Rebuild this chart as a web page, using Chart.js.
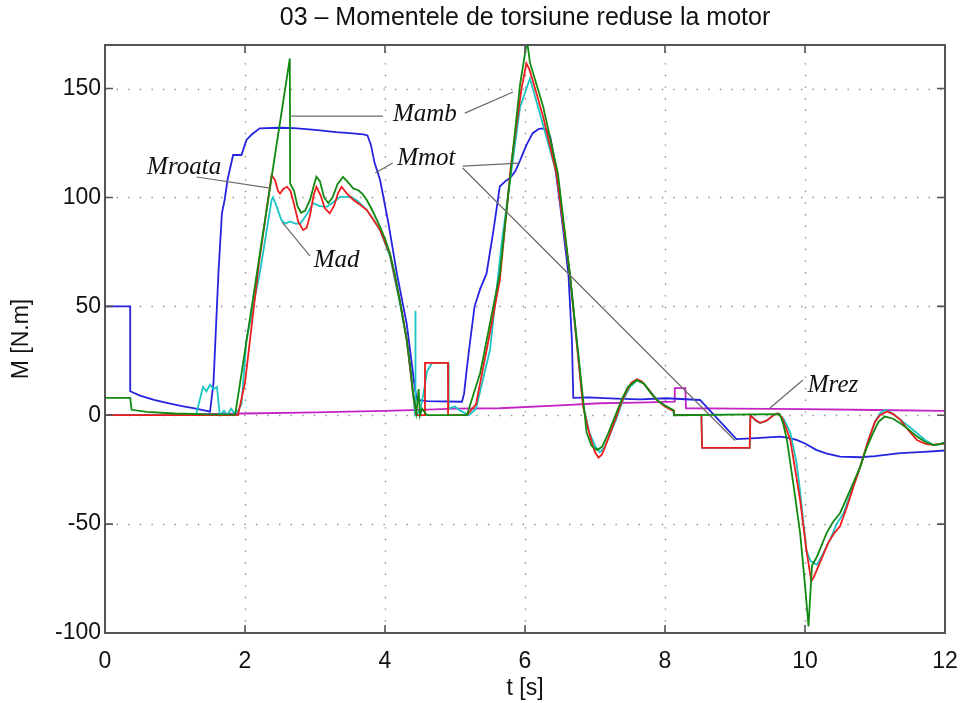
<!DOCTYPE html>
<html>
<head>
<meta charset="utf-8">
<script src="https://cdn.jsdelivr.net/npm/chart.js@4.4.1/dist/chart.umd.min.js"></script>
<style>
  html, body { margin: 0; padding: 0; background: #fff; }
  #wrap { width: 964px; height: 703px; }
</style>
</head>
<body>
<div id="wrap"><canvas id="c"></canvas></div>
<script>
// axis ticks
const xTicks = [0, 2, 4, 6, 8, 10, 12];
const yTicks = [-100, -50, 0, 50, 100, 150];

// Mmot (blue)
const tMot = [0, 0.36, 0.36, 0.5, 0.7, 0.9, 1.1, 1.3, 1.45, 1.5, 1.55, 1.62, 1.67, 1.71, 1.75, 1.83, 1.95, 2.02, 2.1, 2.21, 2.5, 2.7, 3.0, 3.3, 3.5, 3.69, 3.75, 3.8, 3.85, 3.93, 4.05, 4.17, 4.31, 4.43, 4.46, 4.6, 5.1, 5.13, 5.16, 5.22, 5.28, 5.36, 5.45, 5.55, 5.64, 5.72, 5.79, 5.86, 5.93, 6.02, 6.11, 6.2, 6.26, 6.32, 6.36, 6.4, 6.43, 6.5, 6.54, 6.62, 6.67, 6.69, 6.9, 7.3, 7.64, 8.02, 8.5, 9.02, 9.3, 9.64, 9.75, 9.88, 10.0, 10.16, 10.3, 10.5, 10.79, 11.0, 11.36, 11.7, 12];
const mMot = [50, 50, 11, 9, 7, 5.5, 4.2, 3, 2, 1.6, 15, 65, 92.7, 99, 108, 119.5, 119.5, 126.4, 129, 131.7, 132, 131.8, 131, 130, 129.5, 129, 128.5, 124, 116, 108, 88, 65, 42, 11.6, 7, 6.5, 6.2, 10, 19, 35, 50, 58, 65, 85, 105, 107.5, 109, 112, 117, 124, 129.5, 131.5, 131.7, 130.5, 127.8, 121, 114, 97, 86.5, 65, 34.5, 8, 8.2, 7.6, 7.3, 7.8, 7, -11, -10.5, -9.8, -10.3, -11.3, -13, -15.9, -17.5, -19, -19.3, -18.8, -17.4, -16.8, -16.2];

// Mrez (magenta)
const tRez = [0, 1, 2, 3, 4, 4.5, 5, 5.64, 6.5, 7.07, 7.6, 8.13, 8.14, 8.29, 8.3, 9, 10, 11, 12];
const mRez = [0, 0.3, 0.8, 1.3, 2, 2.5, 3, 3.2, 4.5, 5.5, 5.8, 6.2, 12.4, 12.4, 3.2, 3, 2.8, 2.4, 2];

// Mamb (green)
const tAmb = [0, 0.36, 0.38, 0.6, 1.0, 1.5, 1.86, 2.64, 2.645, 2.7, 2.75, 2.8, 2.86, 2.93, 2.98, 3.02, 3.07, 3.13, 3.19, 3.25, 3.32, 3.4, 3.47, 3.55, 3.62, 3.68, 3.74, 3.82, 3.93, 4.0, 4.07, 4.14, 4.21, 4.31, 4.37, 4.4, 4.45, 4.48, 4.5, 4.53, 4.6, 5.17, 5.36, 5.64, 5.93, 6.03, 6.07, 6.26, 6.47, 6.64, 6.79, 6.88, 6.95, 7.03, 7.1, 7.18, 7.28, 7.38, 7.47, 7.6, 7.7, 7.8, 7.9, 8.0, 8.12, 8.13, 9.64, 9.69, 9.74, 9.84, 9.93, 10.0, 10.05, 10.08, 10.1, 10.17, 10.31, 10.4, 10.5, 10.65, 10.79, 10.88, 10.97, 11.05, 11.14, 11.25, 11.36, 11.48, 11.6, 11.72, 11.83, 11.92, 12];
const mAmb = [8, 8, 2.5, 1.5, 0.8, 0.4, 0.3, 163.8, 106.4, 103, 96, 93, 94, 99, 105, 109.5, 107.5, 100, 97.4, 100, 106, 109.4, 107, 104, 103.3, 101.5, 98.8, 94, 86.5, 81, 74.4, 65, 52.9, 34.5, 20, 10, 1, 12, 0, 3, 0, 0, 19.4, 65, 152, 172, 162, 141.6, 111, 65, 19.4, -8, -14, -16, -14.5, -9, -1, 7, 13, 16.2, 14.5, 10, 6.5, 4.5, 2.4, 0, 0.5, -4, -11, -33, -54, -78, -97, -80, -69, -65, -54, -49, -45, -34, -23.6, -15, -8.3, -3, -0.6, -1.5, -3.7, -6.5, -9.8, -12.3, -13.6, -13.3, -12.5];

// Mroata (red)
const tRoata = [0, 1.9, 2.0, 2.2, 2.38, 2.43, 2.47, 2.5, 2.55, 2.6, 2.65, 2.7, 2.76, 2.83, 2.88, 2.93, 2.98, 3.02, 3.08, 3.14, 3.21, 3.27, 3.33, 3.38, 3.45, 3.55, 3.65, 3.74, 3.83, 3.93, 4.07, 4.21, 4.31, 4.4, 4.45, 4.57, 4.571, 4.9, 4.901, 5.17, 5.3, 5.5, 5.64, 5.8, 5.95, 6.02, 6.06, 6.11, 6.26, 6.45, 6.64, 6.83, 6.9, 6.95, 7.0, 7.05, 7.1, 7.15, 7.22, 7.3, 7.38, 7.45, 7.52, 7.6, 7.67, 7.75, 7.83, 7.9, 8.0, 8.08, 8.13, 8.131, 8.52, 8.53, 9.21, 9.22, 9.3, 9.36, 9.45, 9.55, 9.61, 9.67, 9.72, 9.79, 9.86, 9.93, 10.02, 10.09, 10.13, 10.21, 10.33, 10.42, 10.5, 10.6, 10.7, 10.79, 10.9, 11.0, 11.07, 11.17, 11.26, 11.36, 11.48, 11.6, 11.72, 11.83, 11.92, 12];
const mRoata = [0, 0, 15, 70, 110.2, 108, 103, 101.8, 104, 104.9, 103, 97, 89, 85, 86, 92, 101, 104.9, 101, 95, 92.7, 96, 102, 104.9, 102, 98.8, 96.5, 94.2, 90, 85, 74, 53, 35, 10, 0, 0, 24, 24, 0, 0, 5, 38, 62, 115, 150, 161.5, 159, 153.8, 137, 111, 65, 4, -6, -12, -17, -19.5, -18, -14, -8, -1, 6, 11, 15, 16.5, 15.5, 12.5, 9, 6.5, 4, 2.5, 2, 0, 0, -15, -15, 0, -2.5, -3.5, -2.5, 0, 0.9, -1, -5, -11.4, -25, -38.9, -61.8, -76.3, -74, -67.9, -58.7, -54, -51, -42, -32, -23.6, -12, -3, 0, 1.7, 0.5, -2, -7, -11.4, -13.2, -13.6, -13.3, -13];

// Mad (cyan)
const tAd = [0, 1.3, 1.33, 1.4, 1.45, 1.5, 1.55, 1.6, 1.64, 1.7, 1.75, 1.8, 1.85, 1.9, 1.95, 2.02, 2.21, 2.38, 2.4, 2.45, 2.52, 2.58, 2.64, 2.72, 2.79, 2.88, 2.97, 3.07, 3.17, 3.27, 3.36, 3.52, 3.62, 3.74, 3.83, 3.93, 4.07, 4.21, 4.31, 4.4, 4.43, 4.431, 4.44, 4.5, 4.55, 4.6, 4.67, 4.9, 4.91, 5.0, 5.08, 5.2, 5.3, 5.5, 5.67, 5.93, 6.07, 6.2, 6.45, 6.64, 6.83, 6.92, 7.0, 7.07, 7.13, 7.2, 7.3, 7.4, 7.5, 7.6, 7.7, 7.8, 7.9, 8.0, 8.12, 8.13, 8.52, 8.53, 9.21, 9.22, 9.3, 9.36, 9.45, 9.55, 9.61, 9.7, 9.79, 9.88, 9.93, 10.02, 10.08, 10.17, 10.25, 10.36, 10.45, 10.55, 10.65, 10.79, 10.9, 11.0, 11.07, 11.14, 11.22, 11.36, 11.48, 11.6, 11.72, 11.83, 11.92, 12];
const mAd = [0, 0, 4, 13, 11, 14, 12, 13, 0, 2, 0, 3, 1, 2, 5, 34.5, 65, 98.8, 100, 96, 89.6, 88, 89, 88, 88, 92, 97.4, 96, 95.7, 98, 100.3, 100.3, 98, 94.2, 90, 85, 73, 52, 35, 10, 0, 48, 0, 2, 10, 20, 24, 24, 3, 4, 2, 0, 3, 30, 80, 141.6, 154.6, 140, 111, 65, 5, -8, -14, -17, -15, -10, -2, 7, 13, 16, 14.5, 10.5, 6.5, 4.5, 2, 0, 0, -15, -15, 0, -2.5, -3.7, -2.5, 0, 0.9, -2, -8, -22, -35, -62, -67, -68.7, -64, -57, -50, -45, -36, -23.6, -12, -3, 0.8, 2.4, 1.5, -2, -5, -8.3, -11.5, -13.6, -13.5, -12.5];

// labels with leader lines, in data units
const labelNames = ['Mamb', 'Mmot', 'Mroata', 'Mad', 'Mrez'];
const labelPos = [[4.57, 138.2], [4.59, 118.1], [1.13, 114], [3.31, 71.3], [10.4, 13.9]];
const leaders = [
  [[2.66, 137.3], [3.97, 137.3]],
  [[5.14, 138.7], [5.83, 148.4]],
  [[3.86, 111.2], [4.11, 115.8]],
  [[5.11, 114.4], [5.93, 115.8]],
  [[5.11, 113.5], [9.0, -11.6]],
  [[1.31, 109.4], [2.36, 104.3]],
  [[2.53, 88.7], [2.93, 73.1]],
  [[9.5, 3.3], [9.97, 16.2]]
];

const SANS = "'Liberation Sans', Arial, sans-serif";

function series(label, color, ts, ms){
  return {
    label, borderColor: color, backgroundColor: color,
    data: ts.map((t, i) => ({x: t, y: ms[i]})),
    borderWidth: 1.8, pointRadius: 0, tension: 0, clip: 0
  };
}

// dotted grid, inward ticks, frame
const matlabAxes = {
  id: 'matlabAxes',
  beforeDatasetsDraw(chart){
    const {ctx, chartArea: a, scales: {x, y}} = chart;
    ctx.save();
    ctx.strokeStyle = '#8c8c8c';
    ctx.lineWidth = 1.4;
    ctx.setLineDash([1.4, 10.2]);
    for(const v of xTicks){
      if(v === x.min || v === x.max) continue;
      const px = Math.round(x.getPixelForValue(v)) + 0.5;
      ctx.beginPath(); ctx.moveTo(px, a.bottom); ctx.lineTo(px, a.top); ctx.stroke();
    }
    for(const v of yTicks){
      if(v === y.min || v === y.max) continue;
      const py = Math.round(y.getPixelForValue(v)) + 0.5;
      ctx.beginPath(); ctx.moveTo(a.left, py); ctx.lineTo(a.right, py); ctx.stroke();
    }
    ctx.restore();
  },
  afterDatasetsDraw(chart){
    const {ctx, chartArea: a, scales: {x, y}} = chart;
    ctx.save();
    ctx.strokeStyle = '#555';
    ctx.lineWidth = 1.6;
    const tl = 8;
    for(const v of xTicks){
      const px = x.getPixelForValue(v);
      ctx.beginPath();
      ctx.moveTo(px, a.bottom); ctx.lineTo(px, a.bottom - tl);
      ctx.moveTo(px, a.top); ctx.lineTo(px, a.top + tl);
      ctx.stroke();
    }
    for(const v of yTicks){
      const py = y.getPixelForValue(v);
      ctx.beginPath();
      ctx.moveTo(a.left, py); ctx.lineTo(a.left + tl, py);
      ctx.moveTo(a.right, py); ctx.lineTo(a.right - tl, py);
      ctx.stroke();
    }
    ctx.lineWidth = 2;
    ctx.strokeRect(a.left, a.top, a.right - a.left, a.bottom - a.top);

    // annotations
    ctx.strokeStyle = '#6a6a6a';
    ctx.lineWidth = 1.2;
    for(const [p, q] of leaders){
      ctx.beginPath();
      ctx.moveTo(x.getPixelForValue(p[0]), y.getPixelForValue(p[1]));
      ctx.lineTo(x.getPixelForValue(q[0]), y.getPixelForValue(q[1]));
      ctx.stroke();
    }
    ctx.fillStyle = '#111';
    ctx.font = "italic 25px 'Liberation Serif', 'Times New Roman', serif";
    ctx.textAlign = 'center';
    ctx.textBaseline = 'middle';
    labelNames.forEach((n, i) => {
      ctx.fillText(n, x.getPixelForValue(labelPos[i][0]), y.getPixelForValue(labelPos[i][1]));
    });
    ctx.restore();
  }
};

new Chart(document.getElementById('c'), {
  type: 'line',
  data: {
    datasets: [
      series('Mamb', '#128a12', tAmb, mAmb),
      series('Mroata', '#ee1c1c', tRoata, mRoata),
      series('Mad', '#1cc4c4', tAd, mAd),
      series('Mmot', '#2424e0', tMot, mMot),
      series('Mrez', '#c424c4', tRez, mRez)
    ]
  },
  options: {
    responsive: true,
    maintainAspectRatio: false,
    animation: false,
    layout: { padding: { left: 0, right: 19, top: 0, bottom: 0 } },
    plugins: {
      legend: { display: false },
      tooltip: { enabled: false },
      title: {
        display: true,
        fullSize: false,
        text: '03 – Momentele de torsiune reduse la motor',
        color: '#111',
        font: { family: SANS, size: 25, weight: 'normal', lineHeight: 1.2 },
        padding: { top: 3, bottom: 12 }
      }
    },
    scales: {
      x: {
        type: 'linear', min: 0, max: 12,
        afterFit(s){ s.height = 70; s.paddingLeft = 0; s.paddingRight = 0; },
        afterBuildTicks(s){ s.ticks = xTicks.map(v => ({value: v})); },
        grid: { display: false, drawTicks: false },
        border: { display: false },
        ticks: { color: '#111', font: { family: SANS, size: 23 }, padding: 15, maxRotation: 0, autoSkip: false },
        title: { display: true, text: 't [s]', color: '#111', font: { family: SANS, size: 23 }, padding: { top: 0, bottom: 1 } }
      },
      y: {
        type: 'linear', min: -100, max: 170,
        afterFit(s){ s.width = 105; s.paddingTop = 0; s.paddingBottom = 0; },
        afterBuildTicks(s){ s.ticks = yTicks.map(v => ({value: v})); },
        grid: { display: false, drawTicks: false },
        border: { display: false },
        ticks: { color: '#111', font: { family: SANS, size: 23 }, padding: 4, autoSkip: false },
        title: { display: true, text: 'M [N.m]', color: '#111', font: { family: SANS, size: 23 }, padding: { top: 8, bottom: 0 } }
      }
    }
  },
  plugins: [matlabAxes]
});
</script>
</body>
</html>
